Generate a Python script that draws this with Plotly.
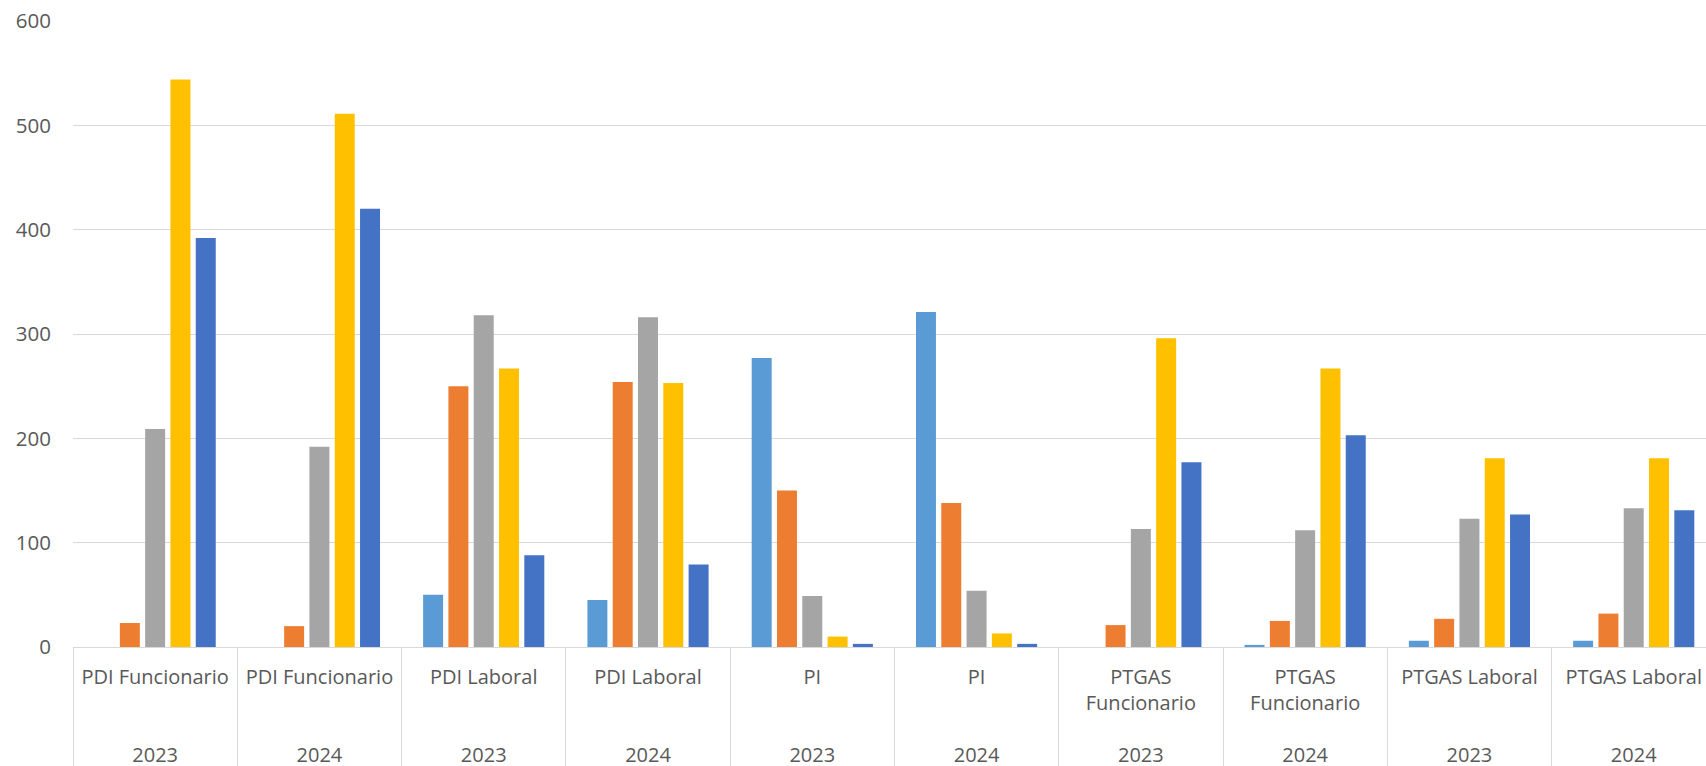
import plotly.graph_objects as go

# categorias (nivel interior) y años (nivel exterior)
CATEGORIAS = ["PDI Funcionario", "PDI Funcionario", "PDI Laboral", "PDI Laboral", "PI", "PI",
              "PTGAS<br>Funcionario", "PTGAS<br>Funcionario", "PTGAS Laboral", "PTGAS Laboral"]
ANOS = ["2023", "2024", "2023", "2024", "2023", "2024", "2023", "2024", "2023", "2024"]

SERIE_1 = [0, 0, 50, 45, 277, 321, 0, 2, 6, 6]
SERIE_2 = [23, 20, 250, 254, 150, 138, 21, 25, 27, 32]
SERIE_3 = [209, 192, 318, 316, 49, 54, 113, 112, 123, 133]
SERIE_4 = [544, 511, 267, 253, 10, 13, 296, 267, 181, 181]
SERIE_5 = [392, 420, 88, 79, 3, 3, 177, 203, 127, 131]

SERIES = [
    ("Serie 1", SERIE_1, "#5B9BD5"),
    ("Serie 2", SERIE_2, "#ED7D31"),
    ("Serie 3", SERIE_3, "#A5A5A5"),
    ("Serie 4", SERIE_4, "#FFC000"),
    ("Serie 5", SERIE_5, "#4472C4"),
]

claves = [f"{c} {a}" for c, a in zip(CATEGORIAS, ANOS)]
etiquetas = [f"{c}<br><br>{a}" if "<br>" in c else f"{c}<br><br><br>{a}"
             for c, a in zip(CATEGORIAS, ANOS)]

GRIS = "#D9D9D9"
TEXTO = "#595959"

fig = go.Figure()
for nombre, valores, color in SERIES:
    fig.add_trace(go.Bar(x=claves, y=valores, name=nombre,
                         marker=dict(color=color, line=dict(width=0))))

# eje auxiliar para las líneas divisorias entre categorías
fig.add_trace(go.Scatter(x=[None], y=[None], xaxis="x2", showlegend=False, hoverinfo="skip"))

rango_x = [-0.5, 9.44]

fig.update_layout(
    width=1706, height=766,
    margin=dict(l=73, r=0, t=21, b=119, autoexpand=False),
    paper_bgcolor="white", plot_bgcolor="white",
    barmode="group", bargap=0.23, bargroupgap=0.21,
    showlegend=False,
    font=dict(family="Open Sans", size=20, color=TEXTO),
    xaxis=dict(
        type="category", range=rango_x, automargin=False,
        tickmode="array", tickvals=claves, ticktext=etiquetas, tickangle=0,
        showline=True, linecolor=GRIS, linewidth=1,
        showgrid=False, ticks="", ticklabelstandoff=12,
        tickfont=dict(size=20, color=TEXTO),
    ),
    xaxis2=dict(
        overlaying="x", anchor="y", side="bottom", type="linear", range=rango_x,
        automargin=False,
        tickmode="array", tickvals=[i - 0.5 for i in range(len(claves) + 1)],
        ticks="outside", ticklen=125, tickcolor=GRIS, tickwidth=1,
        showticklabels=False, showgrid=False, zeroline=False, showline=False,
    ),
    yaxis=dict(
        range=[0, 600], dtick=100, showgrid=True, gridcolor=GRIS, gridwidth=1,
        automargin=False,
        zeroline=False, showline=False, ticks="", ticklabelstandoff=21,
        tickfont=dict(size=20.5, color=TEXTO),
    ),
)

fig.write_html("out.html", config={"displayModeBar": False},
               post_script="document.body.style.margin='0';document.body.style.overflow='hidden';")
